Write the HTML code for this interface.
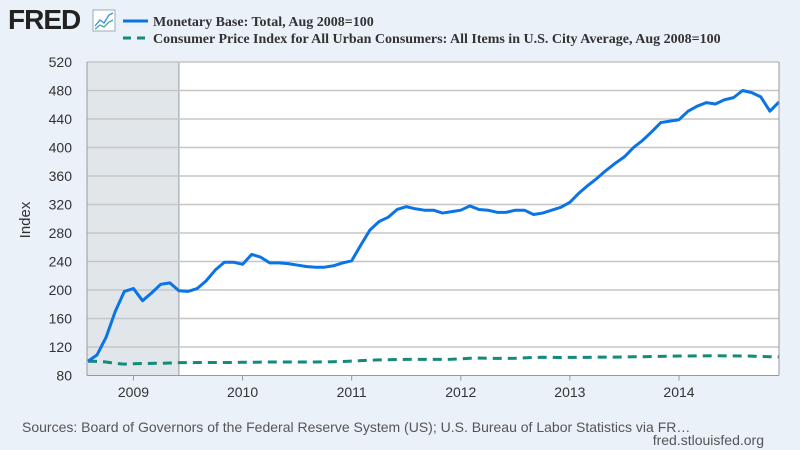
<!DOCTYPE html>
<html><head><meta charset="utf-8"><style>
body{margin:0;width:800px;height:450px;background:#eaf1f9;font-family:"Liberation Sans",sans-serif;overflow:hidden}
svg{position:absolute;left:0;top:0}
</style></head><body>
<svg width="800" height="450">
<text x="8" y="29" font-size="28" font-weight="bold" fill="#222" letter-spacing="-1">FRED</text>
<g>
<rect x="93" y="10" width="22" height="21" fill="#fff" stroke="#9ab" stroke-width="1"/>
<polyline points="95,26 100,20 104,23 109,15 113,13" fill="none" stroke="#3b8de0" stroke-width="1.3"/>
<polyline points="95,29 100,25 104,27 109,22 113,20" fill="none" stroke="#3bb08f" stroke-width="1.3"/>
</g>
<line x1="123" y1="21" x2="148" y2="21" stroke="#0a74e6" stroke-width="3"/>
<text x="153" y="26" font-family="Liberation Serif" font-weight="bold" font-size="14" fill="#333">Monetary Base: Total, Aug 2008=100</text>
<line x1="123" y1="38" x2="148" y2="38" stroke="#138a7a" stroke-width="3" stroke-dasharray="8,6"/>
<text x="153" y="43" font-family="Liberation Serif" font-weight="bold" font-size="14" fill="#333">Consumer Price Index for All Urban Consumers: All Items in U.S. City Average, Aug 2008=100</text>
<rect x="87" y="62" width="692" height="313.5" fill="#fff"/>
<g id="rec"></g><g id="grid"></g><g id="series"></g><g id="axes"></g>
<text transform="translate(30,220) rotate(-90)" text-anchor="middle" font-size="15" fill="#333">Index</text>
<text x="22" y="432" font-size="14" fill="#555">Sources: Board of Governors of the Federal Reserve System (US); U.S. Bureau of Labor Statistics via FR…</text>
<text x="764" y="445" font-size="14" fill="#555" text-anchor="end">fred.stlouisfed.org</text>
</svg>
<script>
const yTicks=[80,120,160,200,240,280,320,360,400,440,480,520];
const xYears=[2009,2010,2011,2012,2013,2014];
const recession=[0,10];
const monetaryBase=[100,109,134,170,198,202,185,196,208,210,199,198,202,213,228,239,239,236,250,246,238,238,237,235,233,232,232,234,238,241,263,284,296,302,313,317,314,312,312,308,310,312,318,313,312,309,309,312,312,306,308,312,316,323,336,347,357,368,378,387,400,410,422,435,437,439,451,458,463,461,467,470,480,477,471,451,464];
const cpi=[100,99.9,98.9,97,96,96.5,96.8,97,97.2,97.5,98,98,98.2,98.3,98.3,98.3,98.3,98.6,98.6,98.8,98.9,98.9,98.9,98.9,99,99,99.1,99.3,99.7,100.2,100.8,101.4,101.9,102.1,102.4,102.6,102.6,102.7,102.7,102.6,102.8,103.4,104.2,104.5,104.2,104,104,104.2,104.8,105.3,105.6,105.4,105.2,105.4,105.4,105.5,105.7,105.8,105.8,106.1,106.3,106.3,106.6,106.9,107.2,107.4,107.4,107.6,107.6,107.7,107.6,107.6,107.4,107.2,106.7,106.3,106.2];
const ns="http://www.w3.org/2000/svg";
const X0=87,X1=779,YT=62,YB=375.5;
const months=76;
function x(i){return 88+(X1-88)*i/months;}
function y(v){return YB-(v-80)*(YB-YT)/440;}
function mk(t,a,p){const e=document.createElementNS(ns,t);for(const k in a)e.setAttribute(k,a[k]);document.getElementById(p).appendChild(e);return e;}
const r=mk('rect',{x:X0,y:YT,width:x(recession[1])-X0,height:YB-YT,fill:'#e1e6eb'},'rec');


mk('line',{x1:x(recession[1]),y1:YT,x2:x(recession[1]),y2:YB,stroke:'#999','stroke-width':1},'rec');
yTicks.forEach(v=>{
 if(v>80){const g=mk('line',{x1:X0,x2:X1,y1:y(v),y2:y(v),stroke:'#c6c6c6','stroke-width':1.5},'grid');
 
 }
 const t=mk('text',{x:72,y:y(v)+5,'text-anchor':'end','font-size':14,fill:'#333'},'axes');t.textContent=v;
 
 
});
mk('line',{x1:X0,x2:X0,y1:YT,y2:YB,stroke:'#999'},'axes');
mk('line',{x1:X1,x2:X1,y1:YT,y2:YB,stroke:'#999'},'axes');
mk('line',{x1:X0,x2:X1,y1:YB,y2:YB,stroke:'#999'},'axes');
xYears.forEach(yr=>{
 const i=(yr-2008)*12-7;
 mk('line',{x1:x(i),x2:x(i),y1:YB,y2:YB+5,stroke:'#999'},'axes');
 const t=mk('text',{x:x(i),y:397,'text-anchor':'middle','font-size':14,fill:'#333'},'axes');t.textContent=yr;
 
 
});
const c=mk('polyline',{points:cpi.slice(0,77).map((v,i)=>x(i)+','+y(v)).join(' '),fill:'none',stroke:'#138a7a','stroke-width':3,'stroke-dasharray':'9,6'},'series');


const m=mk('polyline',{points:monetaryBase.map((v,i)=>x(i)+','+y(v)).join(' '),fill:'none',stroke:'#0a74e6','stroke-width':3,'stroke-linejoin':'round'},'series');


</script>
</body></html>
